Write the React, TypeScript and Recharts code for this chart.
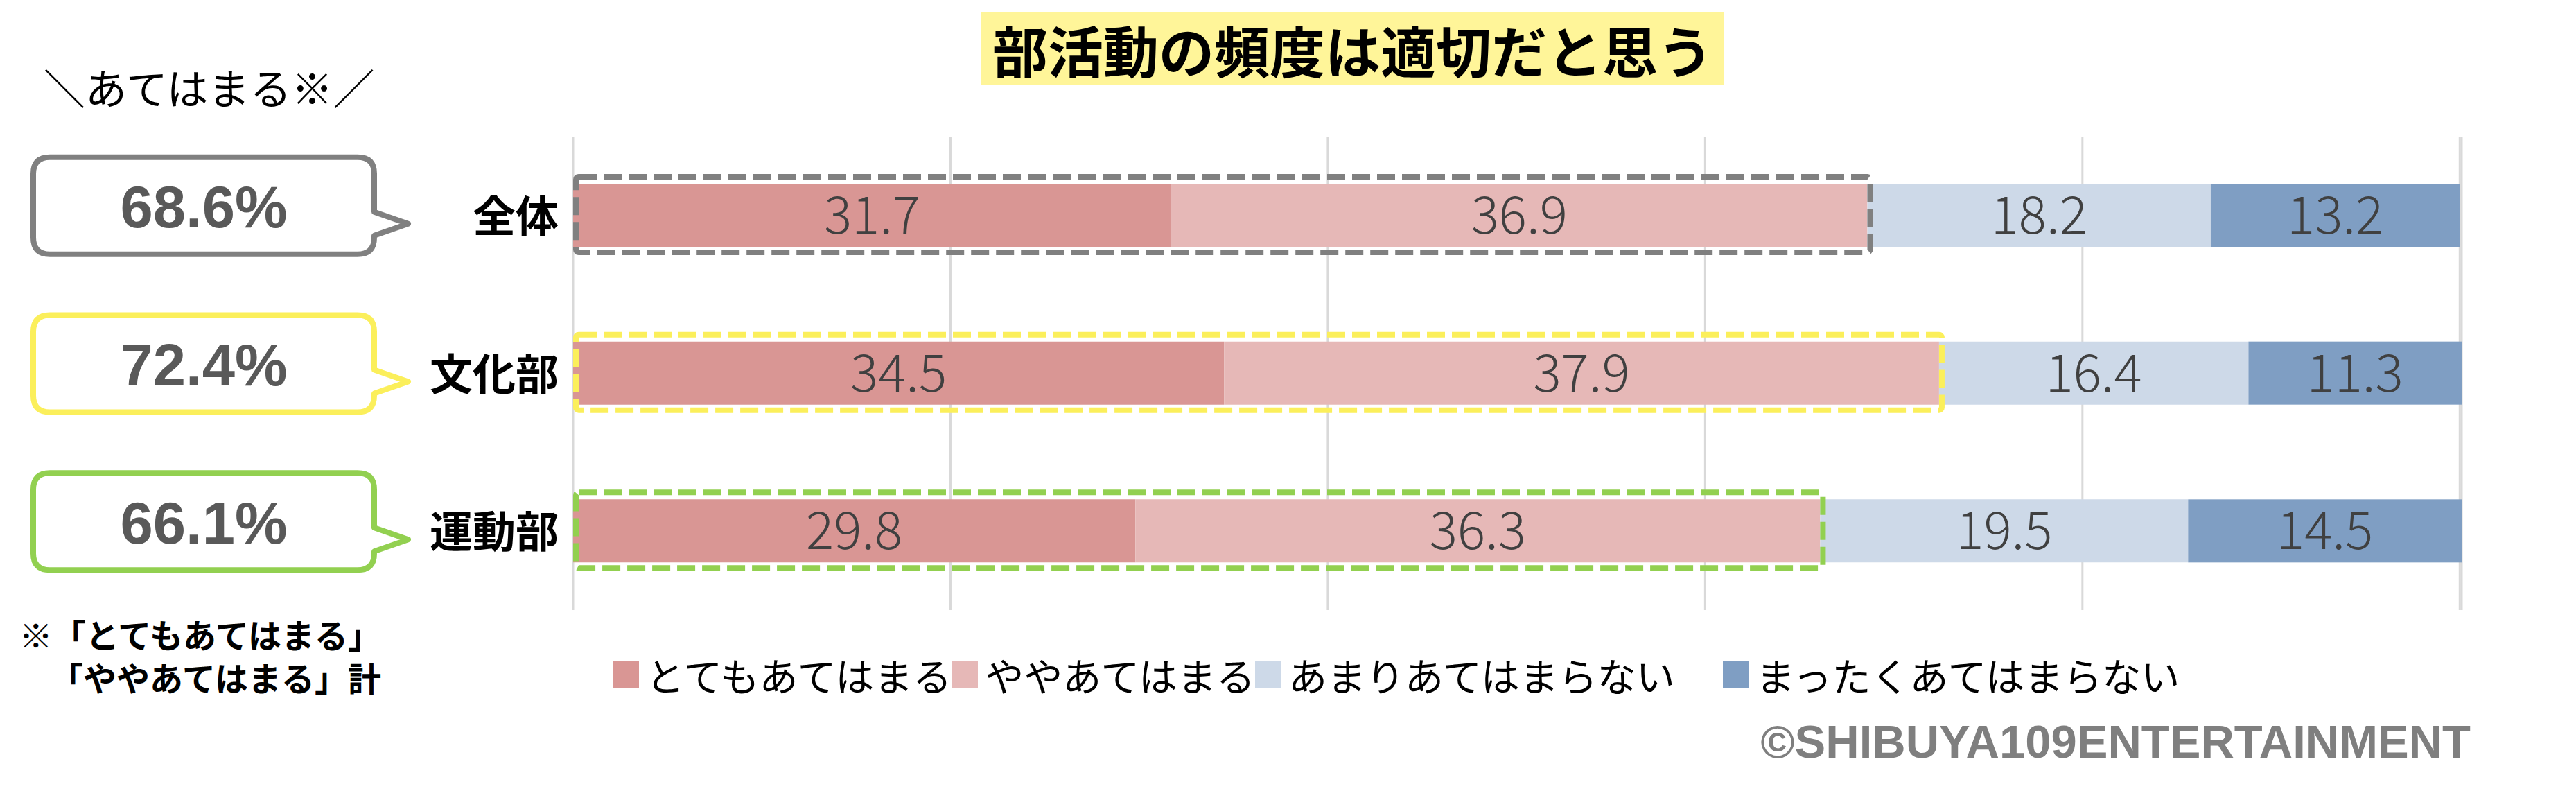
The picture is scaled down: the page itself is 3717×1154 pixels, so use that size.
import React from 'react'
import { BarChart, Bar, XAxis, YAxis, CartesianGrid, Legend, LabelList } from 'recharts'

const categories = ['全体', '文化部', '運動部']
const totemo = [31.7, 34.5, 29.8]
const yaya = [36.9, 37.9, 36.3]
const amari = [18.2, 16.4, 19.5]
const mattaku = [13.2, 11.3, 14.5]
const xTicks = [0, 20, 40, 60, 80, 100]

const seriesKeys = ['totemo', 'yaya', 'amari', 'mattaku']
const seriesNames = ['とてもあてはまる', 'ややあてはまる', 'あまりあてはまらない', 'まったくあてはまらない']
const seriesColors = ['#D99694', '#E6B8B7', '#CDD9E8', '#7F9EC3']
const accentColors = ['#808080', '#FBEF5B', '#92D050']
const legendGaps = [0, 0, 69, 0]

const data = categories.map((name, i) => ({
  name,
  totemo: totemo[i],
  yaya: yaya[i],
  amari: amari[i],
  mattaku: mattaku[i],
  agree: Math.round((totemo[i] + yaya[i]) * 10) / 10,
}))

const JP = '"Noto Sans CJK JP", "Noto Sans", sans-serif'
const LAT = '"Liberation Sans", Arial, sans-serif'

// category label + speech bubble with the "agree" total
function CategoryTick(props: any) {
  const { x, y, payload } = props
  const idx = categories.indexOf(payload.value)
  const row = data[idx]
  const color = accentColors[idx]
  const left = x - 758
  const right = x - 266
  const top = y - 84
  const bottom = y + 56
  const r = 24
  const path = [
    `M ${left + r} ${top}`,
    `H ${right - r}`,
    `Q ${right} ${top} ${right} ${top + r}`,
    `V ${y - 5}`,
    `L ${x - 217} ${y + 12}`,
    `L ${right} ${y + 29}`,
    `V ${bottom - r}`,
    `Q ${right} ${bottom} ${right - r} ${bottom}`,
    `H ${left + r}`,
    `Q ${left} ${bottom} ${left} ${bottom - r}`,
    `V ${top + r}`,
    `Q ${left} ${top} ${left + r} ${top}`,
    'Z',
  ].join(' ')
  return (
    <g>
      <path d={path} fill="#fff" stroke={color} strokeWidth={8} strokeLinejoin="round" />
      <text
        x={(left + right) / 2}
        y={(top + bottom) / 2 + 2}
        textAnchor="middle"
        dominantBaseline="central"
        fontFamily={LAT}
        fontWeight={700}
        fontSize={85}
        fill="#595959"
      >
        {row.agree.toFixed(1)}%
      </text>
      <text
        x={x}
        y={y - 3}
        textAnchor="end"
        dominantBaseline="central"
        fontFamily={JP}
        fontWeight={700}
        fontSize={62}
        fill="#000"
      >
        {payload.value}
      </text>
    </g>
  )
}

// last segment also draws the dashed frame round the first two segments
function LastSegment(props: any) {
  const { x, y, width, height, fill, payload, index } = props
  const k = width / payload.mattaku
  const x0 = x - (payload.totemo + payload.yaya + payload.amari) * k
  const x1 = x0 + (payload.totemo + payload.yaya) * k
  return (
    <g>
      <rect x={x} y={y} width={width} height={height} fill={fill} />
      <rect
        x={x0 + 4}
        y={y - 10}
        width={x1 - x0}
        height={height + 18}
        rx={4}
        fill="none"
        stroke={accentColors[index]}
        strokeWidth={8}
        strokeDasharray="26 10"
      />
    </g>
  )
}

function LegendContent() {
  return (
    <div style={{ display: 'flex', alignItems: 'center' }}>
      {seriesNames.map((n, i) => (
        <div key={n} style={{ display: 'flex', alignItems: 'center', marginRight: legendGaps[i] }}>
          <span style={{ width: 38, height: 38, background: seriesColors[i], marginRight: 10, display: 'inline-block' }} />
          <span style={{ fontFamily: JP, fontSize: 56, lineHeight: 1, color: '#000', whiteSpace: 'nowrap' }}>{n}</span>
        </div>
      ))}
    </div>
  )
}

const fmt = (v: any) => Number(v).toFixed(1)

export default function App() {
  return (
    <div style={{ position: 'absolute', left: 0, top: 0, width: 3717, height: 1154, background: '#fff', overflow: 'hidden' }}>
      <BarChart
        width={3717}
        height={1154}
        data={data}
        layout="vertical"
        barSize={91}
        margin={{ top: 197, right: 165, bottom: 274, left: 0 }}
      >
        <CartesianGrid horizontal={false} stroke="#D9D9D9" strokeWidth={3} />
        <XAxis type="number" domain={[0, 100]} ticks={xTicks} hide />
        <YAxis
          type="category"
          dataKey="name"
          width={827}
          axisLine={false}
          tickLine={false}
          tickMargin={15}
          tick={<CategoryTick />}
        />
        <Legend
          layout="horizontal"
          align="center"
          verticalAlign="middle"
          wrapperStyle={{ left: 884, top: 945, width: 2800 }}
          content={<LegendContent />}
        />
        {seriesKeys.map((key, i) => (
          <Bar
            key={key}
            dataKey={key}
            name={seriesNames[i]}
            stackId="a"
            fill={seriesColors[i]}
            isAnimationActive={false}
            shape={i === 3 ? <LastSegment /> : undefined}
          >
            <LabelList
              dataKey={key}
              position="center"
              formatter={fmt}
              fill="#404040"
              fontSize={75}
              fontWeight={300}
              fontFamily={JP}
            />
          </Bar>
        ))}
      </BarChart>

      <div
        style={{
          position: 'absolute', left: 1416, top: 18, width: 1072, height: 105,
          background: '#FFF599', textAlign: 'center', lineHeight: '105px', whiteSpace: 'nowrap',
          fontFamily: JP, fontWeight: 700, fontSize: 80, color: '#000',
        }}
      >
        部活動の頻度は適切だと思う
      </div>
      <div style={{ position: 'absolute', left: 63, top: 95, fontFamily: JP, fontSize: 60, lineHeight: 1, color: '#000', whiteSpace: 'nowrap' }}>
        ＼あてはまる※／
      </div>
      <div
        style={{
          position: 'absolute', right: 3167, top: 883, fontFamily: JP, fontWeight: 700,
          fontSize: 48, lineHeight: '62px', textAlign: 'right', whiteSpace: 'nowrap',
        }}
      >
        ※「とてもあてはまる」
        <br />
        「ややあてはまる」計
      </div>
      <div style={{ position: 'absolute', right: 152, top: 1036, fontFamily: LAT, fontWeight: 700, fontSize: 67, lineHeight: 1, color: '#7F7F7F', whiteSpace: 'nowrap' }}>
        ©SHIBUYA109ENTERTAINMENT
      </div>
    </div>
  )
}
